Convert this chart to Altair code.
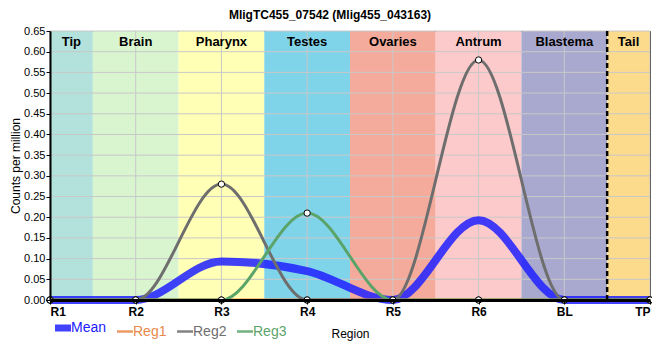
import altair as alt
import pandas as pd

# ---------------- data ----------------
regions = ["R1", "R2", "R3", "R4", "R5", "R6", "BL", "TP"]
series_names = ["Mean", "Reg1", "Reg2", "Reg3"]
mean_vals = [0.0, 0.0, 0.093, 0.07, 0.0, 0.193, 0.0, 0.0]
reg1_vals = [0.0, 0.0, 0.0, 0.0, 0.0, 0.0, 0.0, 0.0]
reg2_vals = [0.0, 0.0, 0.28, 0.0, 0.0, 0.58, 0.0, 0.0]
reg3_vals = [0.0, 0.0, 0.0, 0.21, 0.0, 0.0, 0.0, 0.0]
series_colors = ["#2020ff", "#e8894a", "#6e6e6e", "#5aa469"]

band_names = ["Tip", "Brain", "Pharynx", "Testes", "Ovaries", "Antrum", "Blastema", "Tail"]
band_start = [0, 0.5, 1.5, 2.5, 3.5, 4.5, 5.5, 6.5]
band_end = [0.5, 1.5, 2.5, 3.5, 4.5, 5.5, 6.5, 7]
band_colors = ["#b3e2dd", "#d9f5d0", "#ffffb5", "#80d4ea",
               "#f5ab9c", "#fdcacb", "#a9a9cf", "#fddb8d"]
tail_boundary = [6.5]
y_ticks = [0.00, 0.05, 0.10, 0.15, 0.20, 0.25, 0.30, 0.35,
           0.40, 0.45, 0.50, 0.55, 0.60, 0.65]

W, H = 600, 269
FONT = "Liberation Sans"

# ---------------- tables ----------------
idx = list(range(len(regions)))
rows = []
for name, vals in zip(series_names, [mean_vals, reg1_vals, reg2_vals, reg3_vals]):
    for i, v in zip(idx, vals):
        rows.append({"x": i, "region": regions[i], "series": name, "value": v})
df = pd.DataFrame(rows)
bands = pd.DataFrame({"band": band_names, "start": band_start, "end": band_end})
xgrid = pd.DataFrame({"x": idx})
ygrid = pd.DataFrame({"value": y_ticks})
dash = pd.DataFrame({"x": tail_boundary})

# ---------------- scales / axes ----------------
label_expr = "[" + ",".join("'%s'" % r for r in regions) + "][datum.value]"
xscale = alt.Scale(domain=[0, len(regions) - 1], nice=False, zero=False)
yscale = alt.Scale(domain=[0, y_ticks[-1]], nice=False)
xaxis = alt.Axis(values=idx, labelExpr=label_expr, grid=False, zindex=1,
                 domainColor="black", domainWidth=3, tickColor="black", tickSize=4,
                 labelFont=FONT, labelFontSize=12, labelFontWeight="bold",
                 labelColor="black", labelPadding=2,
                 titleFont=FONT, titleFontSize=12, titleFontWeight="normal",
                 titleColor="black", titlePadding=11)
yaxis = alt.Axis(values=y_ticks, format=".2f", grid=False, zindex=1,
                 domainColor="black", domainWidth=2, tickColor="black", tickSize=4,
                 labelFont=FONT, labelFontSize=11, labelColor="black", labelPadding=1,
                 titleFont=FONT, titleFontSize=12, titleFontWeight="normal",
                 titleColor="black", titlePadding=1)


def X(field):
    return alt.X(field + ":Q", scale=xscale, axis=xaxis, title="Region")


def Y(field):
    return alt.Y(field + ":Q", scale=yscale, axis=yaxis, title="Counts per million")


def cond(colors_or_vals):
    expr = ""
    for n, c in zip(series_names[:-1], colors_or_vals[:-1]):
        expr += "datum.label == '%s' ? %s : " % (n, c)
    expr += str(colors_or_vals[-1])
    return expr


label_color_expr = cond(["'%s'" % c for c in series_colors])
sym_width_expr = cond([7, 2.5, 2.5, 2.5])

color_scale = alt.Scale(domain=series_names, range=series_colors)
legend = alt.Legend(orient="none", legendX=6, legendY=290, direction="horizontal",
                    title=None, labelFont=FONT, labelFontSize=14,
                    labelColor={"expr": label_color_expr},
                    symbolType="stroke", symbolSize=256,
                    symbolStrokeWidth={"expr": sym_width_expr},
                    columnPadding=5, labelOffset=1, padding=0)

# ---------------- layers ----------------
band_layer = alt.Chart(bands).mark_rect().encode(
    x=X("start"), x2="end",
    y=alt.value(0), y2=alt.value(H),
    fill=alt.Fill("band:N", scale=alt.Scale(domain=band_names, range=band_colors),
                  legend=None),
)

vgrid = alt.Chart(xgrid).mark_rule(color="#c8c8c8", strokeWidth=1).encode(
    x=X("x"), y=alt.value(0), y2=alt.value(H))
hgrid = alt.Chart(ygrid).mark_rule(color="#c8c8c8", strokeWidth=1).encode(
    y=Y("value"), x=alt.value(0), x2=alt.value(W))

band_text = alt.Chart(bands).transform_calculate(
    mid="(datum.start + datum.end) / 2"
).mark_text(font=FONT, fontSize=13, fontWeight="bold", color="black",
            baseline="middle").encode(
    x=X("mid"), y=alt.value(11), text="band:N")

mean_line = alt.Chart(df).transform_filter(
    alt.datum.series == "Mean"
).mark_line(interpolate="monotone", strokeWidth=8, opacity=0.85).encode(
    x=X("x"), y=Y("value"),
    color=alt.Color("series:N", scale=color_scale, legend=legend),
)

reg_lines = alt.Chart(df).transform_filter(
    alt.datum.series != "Mean"
).mark_line(interpolate="monotone", strokeWidth=3).encode(
    x=X("x"), y=Y("value"),
    color=alt.Color("series:N", scale=color_scale, legend=legend),
    detail="series:N",
)

dash_rule = alt.Chart(dash).mark_rule(color="black", strokeWidth=2.5,
                                      strokeDash=[5, 3]).encode(
    x=X("x"), y=alt.value(0), y2=alt.value(H))

pts = alt.Chart(df).transform_filter(
    alt.datum.series != "Mean"
).mark_point(shape="circle", filled=True, fill="white", stroke="black",
             strokeWidth=1, size=40, opacity=1).encode(
    x=X("x"), y=Y("value"))

chart = alt.layer(
    band_layer, vgrid, hgrid, band_text, mean_line, reg_lines, dash_rule, pts
).properties(
    width=W, height=H,
    title=alt.Title("MligTC455_07542 (Mlig455_043163)", font=FONT, fontSize=12,
                    fontWeight="bold", color="black", anchor="middle",
                    dx=-20, offset=3),
    autosize=alt.AutoSizeParams(type="none"),
    padding={"left": 42, "top": 23, "right": 2, "bottom": 52},
).configure_view(stroke="black", strokeWidth=1)

chart.save("out.html", embed_options={"renderer": "svg", "actions": False})
